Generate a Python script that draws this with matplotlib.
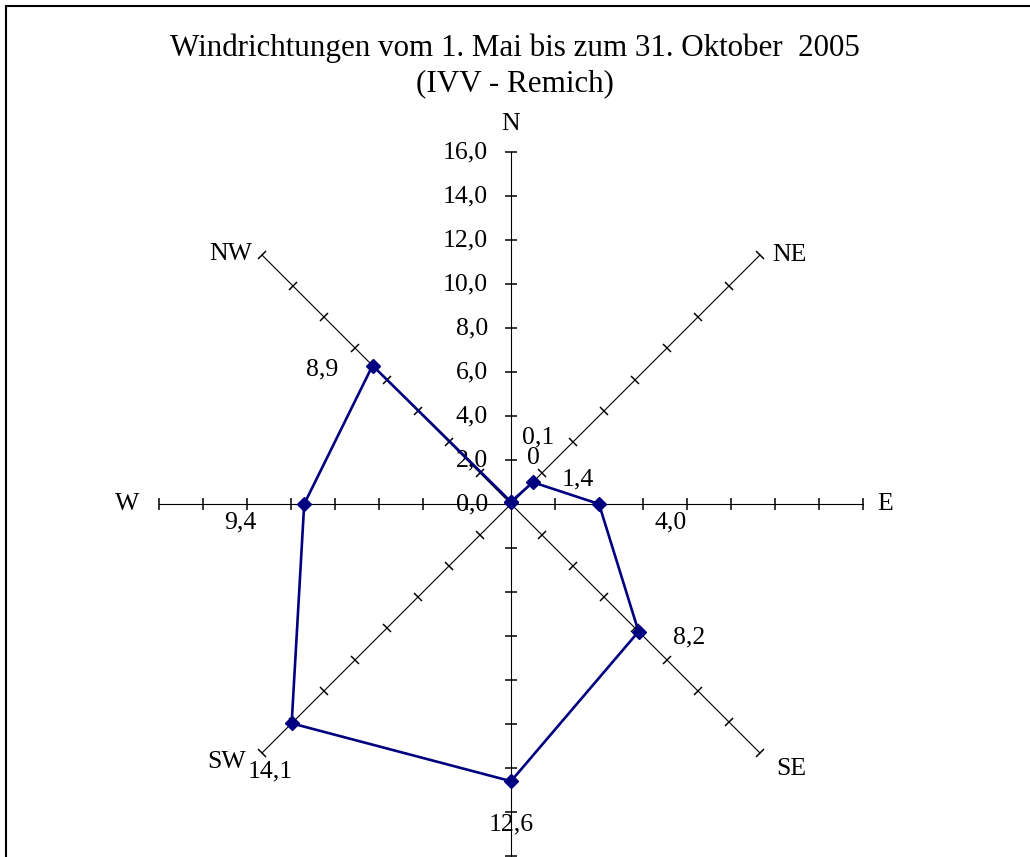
import numpy as np
import matplotlib
matplotlib.use("Agg")
from matplotlib import pyplot as plt
from matplotlib.markers import MarkerStyle
from matplotlib.transforms import Affine2D
from matplotlib.patches import Rectangle

plt.rcParams['font.family'] = ['Liberation Serif', 'DejaVu Serif']

# =============================================================================
# DATA
# =============================================================================
directions = ['N', 'NE', 'E', 'SE', 'S', 'SW', 'W', 'NW']
values = [0.1, 1.4, 4.0, 8.2, 12.6, 14.1, 9.4, 8.9]
tick_values = [0, 2, 4, 6, 8, 10, 12, 14, 16]
rmax = 16
title_1 = 'Windrichtungen vom 1. Mai bis zum 31. Oktober  2005'
title_2 = '(IVV - Remich)'

# label offsets in pixels (style only)
val_offsets = [(27, 64), (45, 3), (72, -18), (51, -6), (0, -43), (-21, -48), (-64, -18), (-50, -4)]
cat_align = [('center', 'center'), ('left', 'center'), ('left', 'center'), ('left', 'center'),
             ('center', 'center'), ('right', 'center'), ('right', 'center'), ('right', 'center')]
cat_offsets = [(0, 28), (12, 0), (14, 0), (16, -16), (0, -30), (-16, -9), (-20, 0), (-10, 1)]

# =============================================================================
# PLOT
# =============================================================================
W, H, dpi = 1030, 857, 100
cx, cy = 511, 504        # center in pixels (from top-left)
ppu = 22.0               # pixels per unit
fs = 18.5

fig = plt.figure(figsize=(W/dpi, H/dpi), dpi=dpi)
ax = fig.add_axes([0, 0, 1, 1])
ax.set_xlim(-cx/ppu, (W-cx)/ppu)
ax.set_ylim(-(H-cy)/ppu, cy/ppu)
ax.axis('off')

angles = np.deg2rad(90 - 45*np.arange(len(directions)))  # math angles, N up, clockwise

def xy(r, a):
    return r*np.cos(a), r*np.sin(a)

# spokes + ticks
for i, a in enumerate(angles):
    ex, ey = xy(rmax, a)
    ax.plot([0, ex], [0, ey], color='black', lw=0.8, zorder=1)
    tv = np.array(tick_values[1:])
    tx, ty = xy(tv, a)
    mk = MarkerStyle('_', transform=Affine2D().rotate_deg(np.rad2deg(a) + 90))
    ax.plot(tx, ty, ls='none', marker=mk, markersize=9, markeredgewidth=1.1,
            color='black', zorder=1)

# N axis tick labels
for v in tick_values:
    ax.text(-1.05, v, '{0:.1f}'.format(v).replace('.', ','), ha='right', va='center',
            fontsize=fs)

# data polygon
vx, vy = xy(np.array(values), angles)
ax.plot(np.append(vx, vx[0]), np.append(vy, vy[0]), color='#000080', lw=1.9,
        marker='D', markersize=7.5, zorder=3)

# data labels
for i, v in enumerate(values):
    ax.annotate('{0:.1f}'.format(v).replace('.', ','), (vx[i], vy[i]),
                xytext=val_offsets[i], textcoords='offset pixels',
                ha='center', va='center', fontsize=fs)
ax.annotate('0', (vx[0], vy[0]), xytext=(22, 44), textcoords='offset pixels',
            ha='center', va='center', fontsize=fs)

# category labels
for i, d in enumerate(directions):
    ex, ey = xy(rmax, angles[i])
    ax.annotate(d, (ex, ey), xytext=cat_offsets[i], textcoords='offset pixels',
                ha=cat_align[i][0], va=cat_align[i][1], fontsize=fs)

fig.text(515/W, 1 - 48/H, title_1, ha='center', va='center', fontsize=22.3)
fig.text(515/W, 1 - 84/H, title_2, ha='center', va='center', fontsize=22.3)

fig.add_artist(Rectangle((6/W, -0.1), 2, 1.1 - 6/H, transform=fig.transFigure,
                         fill=False, lw=1.5, edgecolor='black'))

fig.savefig('out.png', dpi=dpi)
